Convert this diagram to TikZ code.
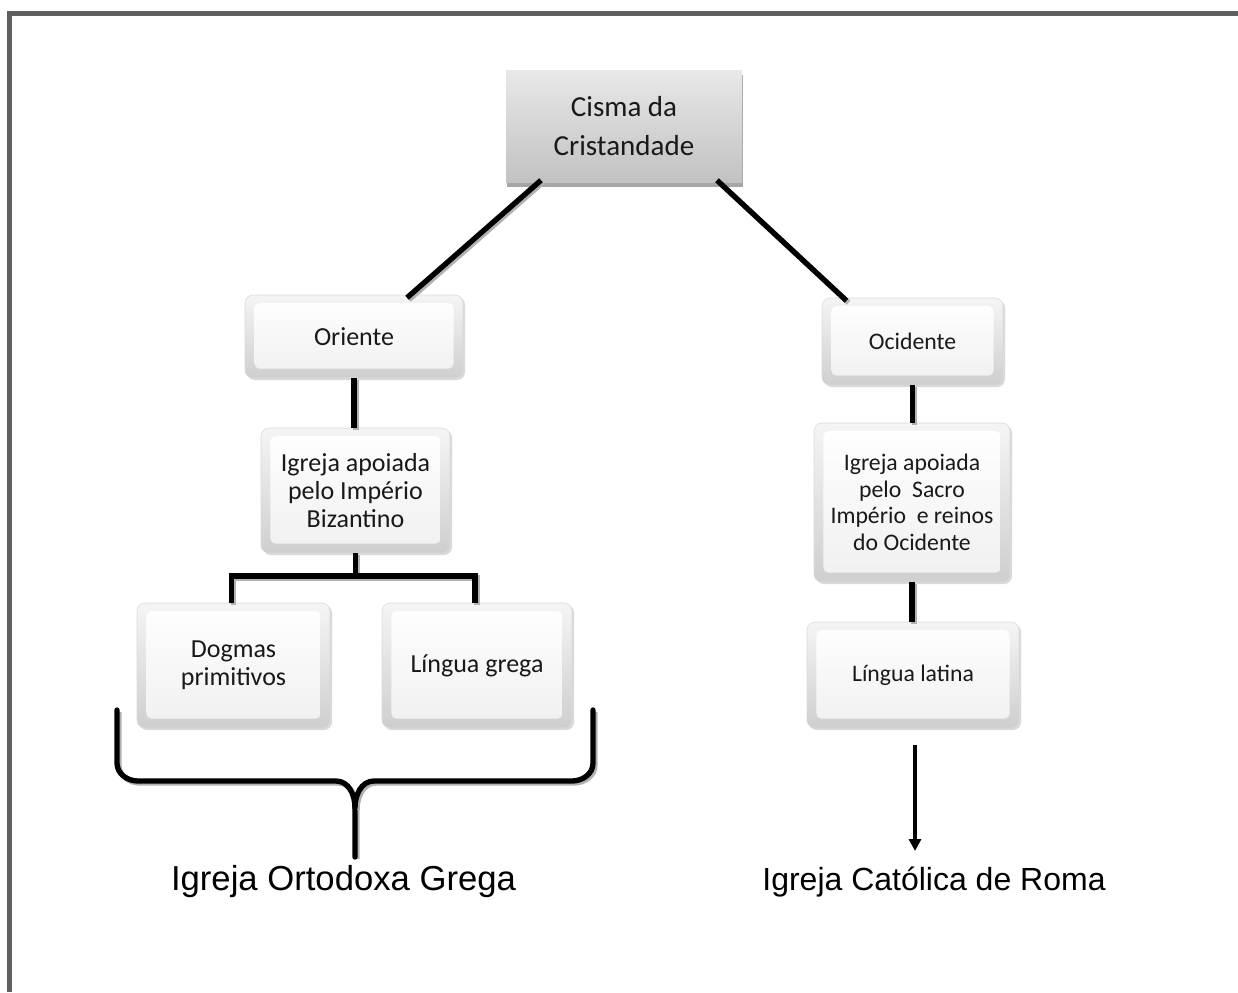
\documentclass[tikz,border=0pt]{standalone}
\usepackage{fontspec}
\setmainfont{Carlito}
\newfontfamily\arialf{Liberation Sans}
\usetikzlibrary{shadows,arrows.meta}
\begin{document}
\begin{tikzpicture}[x=0.75pt,y=-0.75pt,
  sz/.style 2 args={minimum width=#1*0.75pt, minimum height=#2*0.75pt},
  bevel/.style={rounded corners=6pt, draw=gray!30, top color=gray!8, bottom color=gray!38,
    drop shadow={shadow xshift=1.5pt,shadow yshift=-1.5pt,opacity=0.3},
    align=center, inner sep=0pt, text=black!90,
    path picture={\shade[top color=white,bottom color=gray!12,rounded corners=4pt]
      ([shift={(7pt,-6pt)}]path picture bounding box.north west) rectangle
      ([shift={(-7pt,7pt)}]path picture bounding box.south east);}},
  topbox/.style={top color=gray!18, bottom color=gray!48, align=center, inner sep=0pt, text=black!90,
    drop shadow={shadow xshift=1pt,shadow yshift=-3.5pt,fill=gray!70,opacity=1}},
  bigf/.style={font=\fontsize{21.75}{29.25}\selectfont},
  leftf/.style={font=\fontsize{19.5}{21}\selectfont},
  rightf/.style={font=\fontsize{17.8}{19.9}\selectfont},
  labf/.style={font=\arialf\fontsize{26}{30}\selectfont},
  labg/.style={font=\arialf\fontsize{24}{28}\selectfont},
  conn/.style={line width=4pt, black,
    preaction={draw=gray!60, line width=4pt, transform canvas={shift={(1.5pt,-1.5pt)}}}},
  arr/.style={line width=3.6pt, black, -{Triangle[width=9pt,length=9pt]}},
  frame/.style={line width=3.75pt, draw=gray!75!black}
]
\useasboundingbox (0,0) rectangle (1238,992);
\draw[frame] (9.5,992) -- (9.5,13.5) -- (1238,13.5);

% nodes
\node[topbox, bigf, sz={236}{112}] (cisma) at (624,126) {Cisma da\\Cristandade};
\node[bevel, leftf, sz={218}{83}] (ori) at (354,336.5) {Oriente};
\node[bevel, rightf, sz={181}{87}] (oci) at (912.5,341.5) {Ocidente};
\node[bevel, leftf, sz={189}{125}] (igl) at (355.5,490.5) {Igreja apoiada\\pelo Império\\Bizantino};
\node[bevel, rightf, sz={196}{159}] (igr) at (912,502.5) {Igreja apoiada\\pelo~ Sacro\\Império~ e reinos\\do Ocidente};
\node[bevel, leftf, sz={193}{125}] (dog) at (233.5,665.5) {Dogmas\\primitivos};
\node[bevel, leftf, sz={190}{125}] (lgr) at (477,665.5) {Língua grega};
\node[bevel, rightf, sz={212}{106}] (lat) at (913,675) {Língua latina};
\node[labf, anchor=base] (orto) at (343.5,890) {Igreja Ortodoxa Grega};
\node[labg, anchor=base] (roma) at (934,890) {Igreja Católica de Roma};

% connectors
\draw[conn] ([shift={(-83,-2)}]cisma.south) -- ([shift={(53,3)}]ori.north);
\draw[conn] ([shift={(93,-2)}]cisma.south) -- ([shift={(-66,3)}]oci.north);
\draw[conn] (ori.south) -- (ori.south |- igl.north);
\draw[conn] (oci.south) -- (oci.south |- igr.north);
\draw[conn] (igr.south) -- (igr.south |- lat.north);
\coordinate (j) at (355.5,576);
\draw[conn] (igl.south) -- (igl.south |- j);
\draw[conn, line join=miter] ([xshift=-1.5pt]dog.north) |- (j) -| ([xshift=-1.5pt]lgr.north);

% brace
\coordinate (bl) at (117,710);
\coordinate (br) at (593,710);
\coordinate (bt) at (355,857);
\draw[conn, line cap=round] (bl) -- (117,763) to[out=-90,in=180] (138,781) -- (336,781)
   to[out=0,in=90] (355,808) -- (bt);
\draw[conn, line cap=round] (br) -- (593,763) to[out=-90,in=0] (572,781) -- (374,781)
   to[out=180,in=90] (355,808);

% arrow
\coordinate (tip) at (915,851);
\draw[arr] ([shift={(2,17)}]lat.south) -- (tip);
\end{tikzpicture}
\end{document}
